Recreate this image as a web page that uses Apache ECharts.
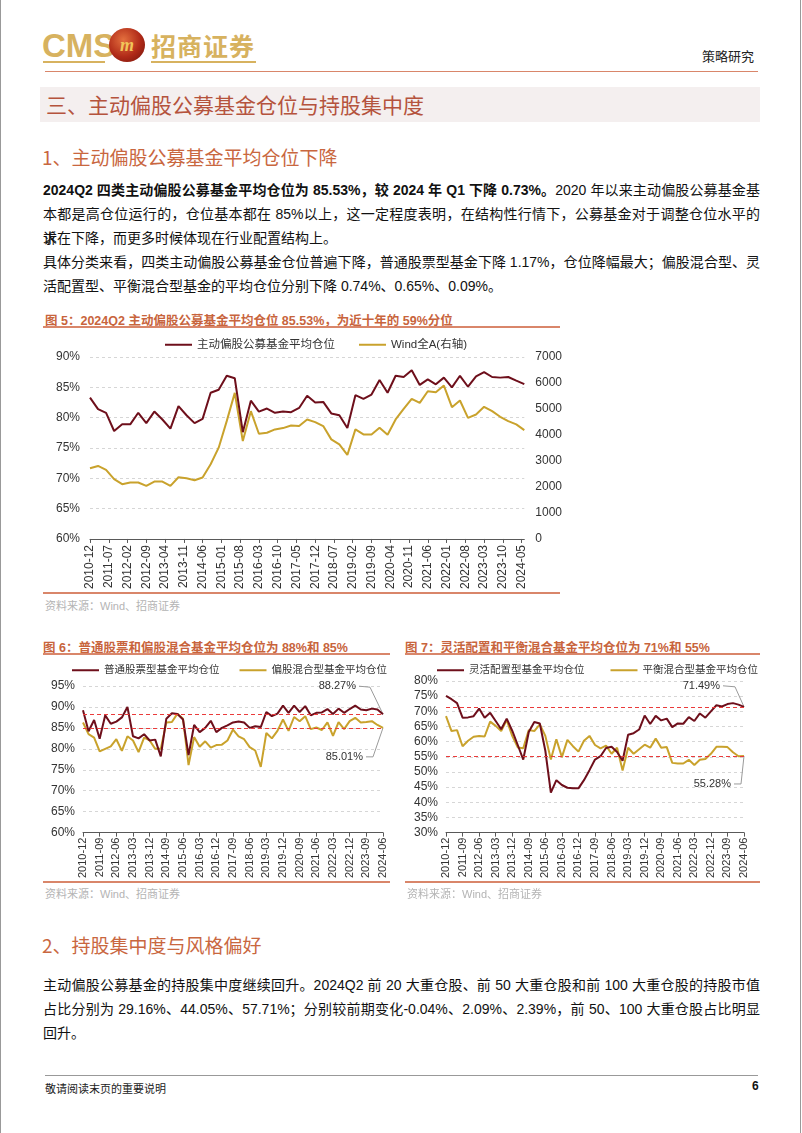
<!DOCTYPE html>
<html><head><meta charset="utf-8">
<script src="https://cdn.jsdelivr.net/npm/echarts/dist/echarts.min.js"></script>
<style>
html,body{margin:0;padding:0;background:#fff}
body{width:802px;height:1133px;position:relative;overflow:hidden;font-family:"Liberation Sans",Arial,"Noto Sans CJK SC",sans-serif;color:#111}
.a{position:absolute;white-space:nowrap}
.ln{position:absolute;left:43px;width:717px;height:24px;line-height:24px;font-size:14px;white-space:nowrap}
.j{text-align:justify;text-align-last:justify;white-space:normal}
.ft{position:absolute;font-size:12.5px;font-weight:bold;color:#c8643c;white-space:nowrap}
.src{position:absolute;font-size:11px;color:#b4b4b4;white-space:nowrap}
.hr{position:absolute;height:2px;background:#d9866a}
</style></head><body>
<div class="a" style="left:0;top:0;width:1px;height:1133px;background:#999"></div>
<div class="a" style="left:800px;top:0;width:1px;height:1133px;background:#999"></div>

<!-- header -->
<div class="a" style="left:42px;top:29px;font-family:'Liberation Sans Narrow','Liberation Sans';font-weight:bold;font-size:33px;line-height:33px;color:#d7b25f;">CMS</div>
<div class="a" style="left:43px;top:61px;width:62px;height:2px;background:#d7b25f"></div>
<div class="a" style="left:109px;top:28px;width:36px;height:34px;border-radius:50%;background:radial-gradient(circle at 40% 35%,#e4703e,#b02a18 55%,#6e1209);color:#f1c55a;font:italic bold 18px/34px 'Liberation Serif';text-align:center">m</div>
<div class="a" style="left:151px;top:30px;font-family:'Noto Sans CJK SC';font-weight:bold;font-size:25px;line-height:30px;color:#d7b25f;letter-spacing:1px">招商证券</div>
<div class="a" style="left:151px;top:61px;width:105px;height:2px;background:#d7b25f"></div>
<div class="a" style="left:702px;top:46px;font-family:'Noto Sans CJK SC';font-size:13px;color:#222">策略研究</div>
<div class="hr" style="left:45px;top:71px;width:713px;height:1px"></div>

<div class="a" style="left:40px;top:87px;width:720px;height:35px;background:#f4efef"></div>
<div class="a" style="left:46px;top:89px;font-family:'Noto Sans CJK SC';font-size:21px;line-height:30px;color:#b5533d">三、主动偏股公募基金仓位与持股集中度</div>

<div class="a" style="left:42px;top:144px;font-family:'Noto Sans CJK SC';font-size:19px;line-height:26px;color:#c9673f">1、主动偏股公募基金平均仓位下降</div>

<div class="ln j" style="top:178px"><b>2024Q2 四类主动偏股公募基金平均仓位为 85.53%，较 2024 年 Q1 下降 0.73%。</b>2020 年以来主动偏股公募基金基</div>
<div class="ln j" style="top:202px">本都是高仓位运行的，仓位基本都在 85%以上，这一定程度表明，在结构性行情下，公募基金对于调整仓位水平的诉</div>
<div class="ln" style="top:226px">求在下降，而更多时候体现在行业配置结构上。</div>
<div class="ln j" style="top:250px">具体分类来看，四类主动偏股公募基金仓位普遍下降，普通股票型基金下降 1.17%，仓位降幅最大；偏股混合型、灵</div>
<div class="ln" style="top:274px">活配置型、平衡混合型基金的平均仓位分别下降 0.74%、0.65%、0.09%。</div>

<!-- figure 5 -->
<div class="ft" style="left:45px;top:310px">图 5：2024Q2 主动偏股公募基金平均仓位 85.53%，为近十年的 59%分位</div>
<div class="hr" style="left:43px;top:326px;width:517px"></div>
<div id="c5" class="a" style="left:43px;top:330px;width:522px;height:262px"></div>
<div class="hr" style="left:43px;top:592px;width:517px"></div>
<div class="src" style="left:45px;top:597px">资料来源：Wind、招商证券</div>

<!-- figure 6 / 7 -->
<div class="ft" style="left:43px;top:637px">图 6：普通股票和偏股混合基金平均仓位为 88%和 85%</div>
<div class="hr" style="left:43px;top:653px;width:347px"></div>
<div id="c6" class="a" style="left:30px;top:657px;width:372px;height:224px"></div>
<div class="hr" style="left:43px;top:881px;width:347px"></div>
<div class="src" style="left:45px;top:885px">资料来源：Wind、招商证券</div>

<div class="ft" style="left:405px;top:637px">图 7：灵活配置和平衡混合基金平均仓位为 71%和 55%</div>
<div class="hr" style="left:405px;top:653px;width:355px"></div>
<div id="c7" class="a" style="left:400px;top:657px;width:372px;height:224px"></div>
<div class="hr" style="left:405px;top:881px;width:355px"></div>
<div class="src" style="left:407px;top:885px">资料来源：Wind、招商证券</div>

<div class="a" style="left:42px;top:932px;font-family:'Noto Sans CJK SC';font-size:19px;line-height:26px;color:#c9673f">2、持股集中度与风格偏好</div>
<div class="ln j" style="top:973px">主动偏股公募基金的持股集中度继续回升。2024Q2 前 20 大重仓股、前 50 大重仓股和前 100 大重仓股的持股市值</div>
<div class="ln j" style="top:997px">占比分别为 29.16%、44.05%、57.71%；分别较前期变化-0.04%、2.09%、2.39%，前 50、100 大重仓股占比明显</div>
<div class="ln" style="top:1021px">回升。</div>

<div class="a" style="left:45px;top:1075px;width:713px;height:1px;background:#999"></div>
<div class="a" style="left:45px;top:1080px;font-family:'Noto Sans CJK SC';font-size:11px;color:#222">敬请阅读末页的重要说明</div>
<div class="a" style="left:752px;top:1079px;font-size:12px;font-weight:bold;color:#111">6</div>

<script>
// ---------- data ----------
// Figure 5: quarterly values, 2010-12 .. 2024-06
const fundPosition = [83.3,81.4,80.8,77.8,78.9,78.9,80.8,79.1,81.0,79.7,78.2,81.9,80.4,79.1,79.8,84.1,84.6,86.9,86.5,77.6,82.8,81.0,81.5,80.8,81.0,80.9,81.6,83.6,82.5,82.6,80.7,80.4,78.3,83.7,83.1,83.8,86.2,84.1,86.9,86.7,87.8,85.4,86.3,85.5,86.6,85.0,86.9,85.1,86.8,87.5,86.7,86.6,86.7,86.1,85.53];
const windAllA = [2720,2810,2656,2300,2107,2171,2171,2043,2209,2209,2043,2375,2337,2260,2362,2873,3512,4533,5619,3767,4916,4048,4086,4214,4265,4367,4342,4597,4495,4342,3831,3640,3231,4214,4022,4022,4278,4010,4597,5006,5389,5236,5683,5644,5900,5070,5325,4661,4789,5083,4916,4700,4533,4406,4189];
// Figure 6
const stockFund = [89.2,84.2,86.9,82.4,88.0,86.0,86.5,87.5,90.0,83.0,82.5,83.5,82.0,82.2,78.2,87.2,88.5,88.3,87.0,78.5,85.7,84.0,85.0,86.7,84.0,85.0,85.6,86.3,86.5,86.3,85.0,85.4,85.2,88.8,87.8,88.4,90.3,88.6,90.3,88.8,90.2,88.0,88.6,88.7,89.5,88.3,89.6,88.6,89.5,90.3,89.4,89.2,89.6,89.4,88.27];
const equityMixFund = [86.3,83.5,82.7,79.4,80.0,80.6,82.3,79.5,83.0,82.0,79.2,82.7,82.0,80.0,80.0,86.3,86.4,88.4,87.2,76.1,82.8,80.5,81.8,80.3,80.9,81.0,82.0,84.6,83.0,82.3,80.4,79.6,75.7,83.8,82.5,84.3,87.0,84.3,87.6,86.6,87.8,84.7,85.1,84.5,86.3,83.1,86.4,84.7,86.6,87.4,86.3,86.4,86.6,85.7,85.01];
// Figure 7
const flexibleFund = [75.1,74.0,72.7,67.9,68.0,68.4,70.9,67.9,69.5,66.8,64.1,67.6,63.6,58.9,54.1,63.2,66.5,66.0,57.0,43.2,47.3,45.7,44.8,44.6,44.6,47.3,50.6,54.1,55.2,57.9,58.3,56.6,53.7,62.3,62.8,64.0,68.6,65.8,68.5,67.0,67.6,64.8,66.0,65.9,68.1,66.8,69.3,67.9,70.0,72.0,71.6,72.4,72.7,72.2,71.49];
const balancedFund = [68.4,63.5,63.8,58.5,60.3,61.6,61.9,61.7,66.6,65.2,63.5,67.1,61.9,58.1,57.8,63.8,63.5,65.7,61.9,54.1,60.8,54.9,60.6,58.5,56.7,60.3,61.9,58.9,57.8,58.7,56.0,58.0,50.5,58.0,56.0,57.5,59.0,58.0,61.0,58.0,58.2,53.0,52.8,52.8,54.0,52.3,54.0,54.3,56.0,58.3,58.3,58.2,56.5,55.2,55.28];

const names5 = ['主动偏股公募基金平均仓位','Wind全A(右轴)'];
const names6 = ['普通股票型基金平均仓位','偏股混合型基金平均仓位'];
const names7 = ['灵活配置型基金平均仓位','平衡混合型基金平均仓位'];

// ---------- category builders ----------
function ym(y,m){return y+'-'+(m<10?'0':'')+m;}
function monthCats(y0,m0,y1,m1){const r=[];let y=y0,m=m0;while(y<y1||(y===y1&&m<=m1)){r.push(ym(y,m));m++;if(m>12){m=1;y++;}}return r;}
function quarterCats(y0,m0,n){const r=[];let y=y0,m=m0;for(let i=0;i<n;i++){r.push(ym(y,m));m+=3;if(m>12){m-=12;y++;}}return r;}

const months5 = monthCats(2010,12,2024,6);       // monthly axis for fig.5
const quarters = quarterCats(2010,12,fundPosition.length);
function toMonthly(vals){const out=new Array(months5.length).fill(null);vals.forEach((v,i)=>{out[months5.indexOf(quarters[i])]=v;});return out;}

const RED='#6e0f1b', GOLD='#c9a22c', TXT='#333';
const FONT='"Liberation Sans",Arial,"Noto Sans CJK SC",sans-serif';
const gridLine={show:true,lineStyle:{color:'#d6d6d6',type:[3,3],width:1}};
const legendBase={icon:'rect',itemWidth:27,itemHeight:2,orient:'horizontal',width:460};

// ---------- figure 5 ----------
const c5 = echarts.init(document.getElementById('c5'));
c5.setOption({
  animation:false,
  textStyle:{fontFamily:FONT},
  legend:Object.assign({left:117,top:4,itemGap:24,textStyle:{fontSize:11.5,color:TXT,fontFamily:FONT},data:names5},legendBase),
  grid:{left:47,right:37,top:27,bottom:52,containLabel:false},
  xAxis:{type:'category',data:months5,boundaryGap:false,
    axisLine:{lineStyle:{color:'#595959'}},
    axisTick:{interval:6,length:4,lineStyle:{color:'#595959'}},
    axisLabel:{interval:6,rotate:90,fontSize:12,color:TXT,margin:6}},
  yAxis:[
    {type:'value',min:60,max:90,interval:5,splitLine:gridLine,axisLine:{show:false},axisTick:{show:false},
     axisLabel:{formatter:'{value}%',fontSize:12,color:TXT,margin:10}},
    {type:'value',min:0,max:7000,interval:1000,splitLine:{show:false},axisLine:{show:false},axisTick:{show:false},
     axisLabel:{formatter:(v)=>String(v),fontSize:12,color:TXT,margin:11}}
  ],
  series:[
    {name:names5[0],type:'line',data:toMonthly(fundPosition),connectNulls:true,symbol:'none',lineStyle:{color:RED,width:2},itemStyle:{color:RED},z:3},
    {name:names5[1],type:'line',yAxisIndex:1,data:toMonthly(windAllA),connectNulls:true,symbol:'none',lineStyle:{color:GOLD,width:2},itemStyle:{color:GOLD},z:2}
  ]
});

// ---------- figure 6 / 7 ----------
function smallChart(id,names,a,b,ymin,ymax,grid,legendLeft,legendGap){
  const c = echarts.init(document.getElementById(id));
  const ml = (v)=>({silent:true,symbol:'none',label:{show:false},lineStyle:{color:'#ea3b3b',type:[4,3],width:1},data:[{yAxis:v}]});
  c.setOption({
    animation:false,
    textStyle:{fontFamily:FONT},
    legend:Object.assign({left:legendLeft,top:3,itemGap:legendGap,textStyle:{fontSize:10.5,color:TXT,fontFamily:FONT},data:names},legendBase),
    grid:Object.assign({containLabel:false},grid),
    xAxis:{type:'category',data:quarters,boundaryGap:false,
      axisLine:{lineStyle:{color:'#595959'}},
      axisTick:{interval:2,length:4,lineStyle:{color:'#595959'}},
      axisLabel:{interval:2,rotate:90,fontSize:11,color:TXT,margin:5}},
    yAxis:{type:'value',min:ymin,max:ymax,interval:5,splitLine:gridLine,axisLine:{show:false},axisTick:{show:false},
      axisLabel:{formatter:'{value}%',fontSize:12,color:TXT,margin:8}},
    series:[
      {name:names[0],type:'line',data:a,symbol:'none',lineStyle:{color:RED,width:2},itemStyle:{color:RED},z:3,markLine:ml(a[a.length-1])},
      {name:names[1],type:'line',data:b,symbol:'none',lineStyle:{color:GOLD,width:2},itemStyle:{color:GOLD},z:2,markLine:ml(b[b.length-1])}
    ]
  });
  return c;
}
const c6 = smallChart('c6',names6,stockFund,equityMixFund,60,95,{left:53,right:19,top:29,bottom:46},37,20);
const c7 = smallChart('c7',names7,flexibleFund,balancedFund,30,80,{left:46,right:28,top:24,bottom:46},32,26);

// callouts for last values (positions derived from the chart scales)
function callout(chart,vals,tdx,tdy,bend){
  const i=vals.length-1;
  const p=chart.convertToPixel({gridIndex:0},[quarters[i],vals[i]]);
  const ex=p[0], ey=p[1];
  return [
    {type:'text',style:{text:vals[i].toFixed(2)+'%',x:ex+tdx,y:ey+tdy,align:'right',verticalAlign:'middle',fill:TXT,font:'11px '+FONT}},
    {type:'polyline',shape:{points:[[ex+tdx+3,ey+tdy],[ex+bend[0],ey+bend[1]],[ex,ey]]},style:{stroke:'#9a9a9a',lineWidth:1,fill:null}}
  ];
}
c6.setOption({graphic:[].concat(
  callout(c6,stockFund,-27,-28,[-13,-27]),
  callout(c6,equityMixFund,-20,29,[-10,29]))});
c7.setOption({graphic:[].concat(
  callout(c7,flexibleFund,-24,-21,[-9,-20]),
  callout(c7,balancedFund,-13,28,[-3,28]))});
</script>
</body></html>
